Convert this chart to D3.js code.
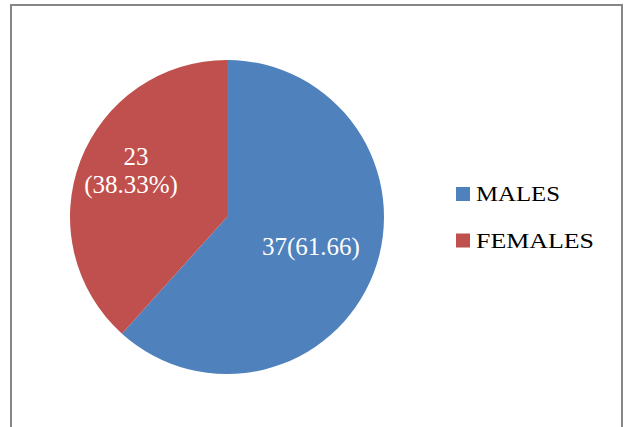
<!DOCTYPE html>
<html><head><meta charset="utf-8">
<script src="https://cdn.jsdelivr.net/npm/d3@7"></script>
<style>body{margin:0;background:#fff}svg{display:block}
text{font-family:"Liberation Serif","Times New Roman",Times,serif}</style>
</head><body>
<script>
const categories = ["MALES", "FEMALES"];
const values = [37, 23];
const labels = [["37(61.66)"], ["23", "(38.33%)"]];
const colors = ["#4F81BD", "#C0504D"];

const W = 624, H = 427;
const svg = d3.select("body").append("svg").attr("width", W).attr("height", H);
svg.append("rect").attr("width", W).attr("height", H).attr("fill", "#fff");
svg.append("path").attr("d", `M11,${H+5} L11,5 L622,5 L622,${H+5}`)
  .attr("fill", "none").attr("stroke", "#868686").attr("stroke-width", 2);

const cx = 227, cy = 217, r = 157;
const pie = d3.pie().sort(null).value(d => d);
const arcs = pie(values);
const arc = d3.arc().innerRadius(0).outerRadius(r);
const g = svg.append("g").attr("transform", `translate(${cx},${cy})`);
g.selectAll("path").data(arcs).enter().append("path")
  .attr("d", arc).attr("fill", (d, i) => colors[i]);

const labelPos = [[[84, 38]], [[-91, -52], [-96, -24]]];
arcs.forEach((a, i) => {
  labels[i].forEach((s, j) => {
    g.append("text").attr("font-size", 25).attr("fill", "#fff")
      .attr("text-anchor", "middle")
      .attr("x", labelPos[i][j][0]).attr("y", labelPos[i][j][1]).text(s);
  });
});

const legW = [84, 118];
const leg = svg.append("g");
categories.forEach((c, i) => {
  const y = 187 + i * 46.5;
  leg.append("rect").attr("x", 456).attr("y", y).attr("width", 14).attr("height", 14).attr("fill", colors[i]);
  leg.append("text").attr("x", 476).attr("y", y + 14).attr("font-size", 22)
    .attr("textLength", legW[i]).attr("lengthAdjust", "spacingAndGlyphs")
    .attr("fill", "#000").text(c);
});
</script>
</body></html>
